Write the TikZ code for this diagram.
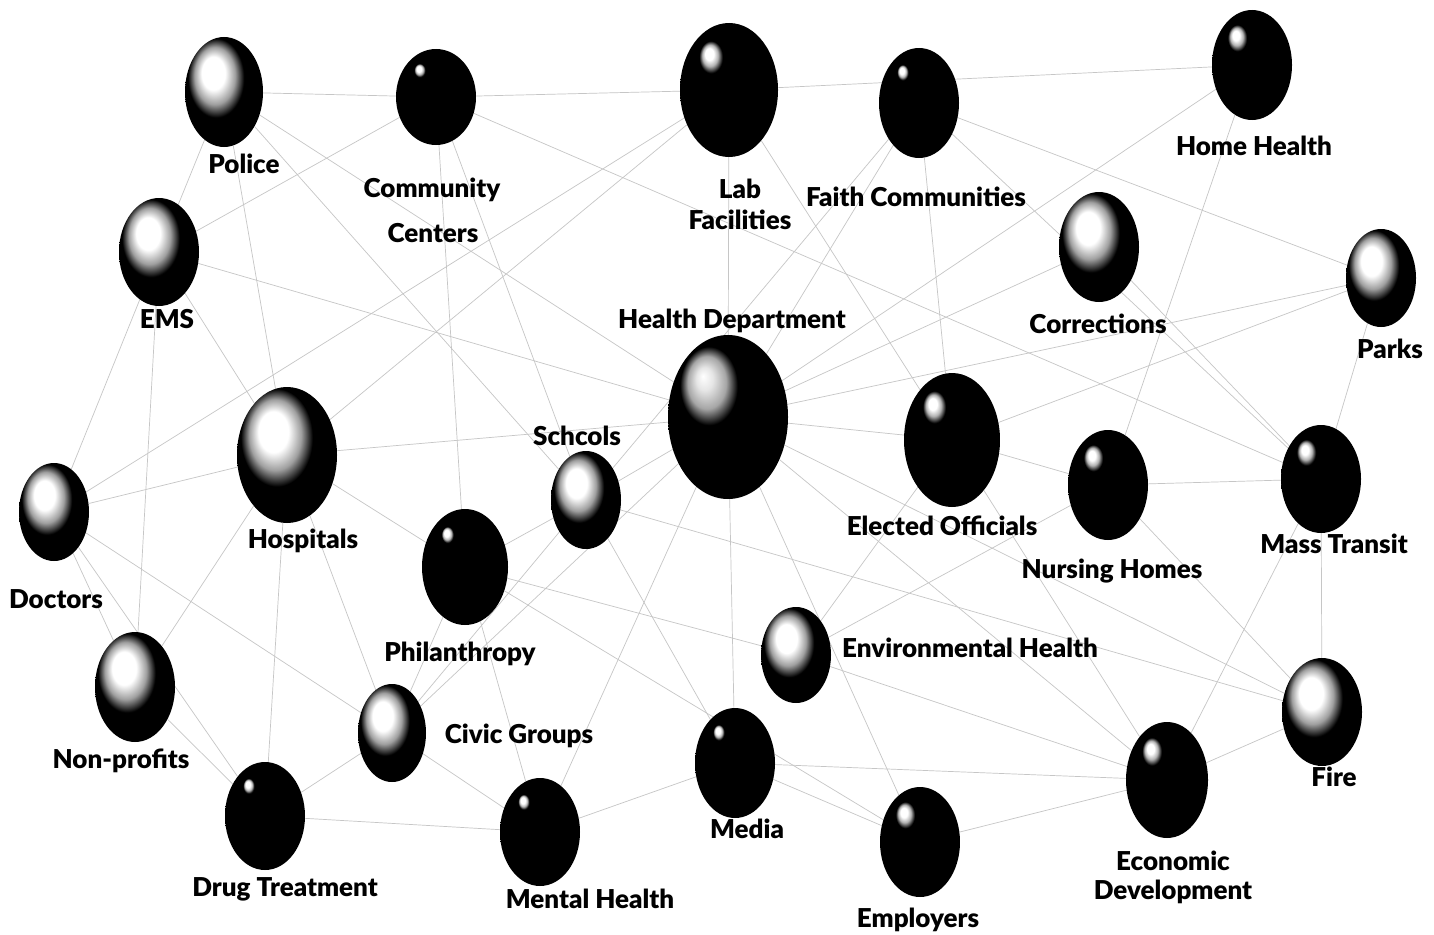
\documentclass[tikz,border=0pt]{standalone}
\usepackage{fontspec}
\setmainfont{Lato}[BoldFont={Lato Black}]
\usetikzlibrary{shapes.geometric,backgrounds}
\pgfdeclareradialshading{lightball}{\pgfpoint{-8bp}{10bp}}{color(0bp)=(white); color(7.5bp)=(white); color(13bp)=(gray!75); color(18bp)=(black); color(25bp)=(black); color(50bp)=(black)}
\pgfdeclareradialshading{medball}{\pgfpoint{-10.5bp}{12.5bp}}{color(0bp)=(white); color(3.5bp)=(white!80!gray); color(8bp)=(gray!70); color(12bp)=(black); color(25bp)=(black); color(50bp)=(black)}
\pgfdeclareradialshading{darkball}{\pgfpoint{-11bp}{15bp}}{color(0bp)=(white); color(1.5bp)=(white); color(2.5bp)=(gray!60); color(3.5bp)=(black); color(25bp)=(black); color(50bp)=(black)}
\pgfdeclareradialshading{darkglow}{\pgfpoint{-10.5bp}{14bp}}{color(0bp)=(white); color(2.2bp)=(white); color(4bp)=(gray!60); color(6bp)=(black); color(25bp)=(black); color(50bp)=(black)}
\tikzset{
  lball/.style={ellipse, inner sep=0pt, shade, shading=lightball},
  mball/.style={ellipse, inner sep=0pt, shade, shading=medball},
  dball/.style={ellipse, inner sep=0pt, shade, shading=darkball},
  gball/.style={ellipse, inner sep=0pt, shade, shading=darkglow},
  lbl/.style={font=\bfseries\fontsize{26}{28}\selectfont, inner sep=0pt, anchor=base},
  link/.style={draw=gray!45, line width=0.7pt}
}
\begin{document}
\begin{tikzpicture}[x=1pt,y=-1pt]
\useasboundingbox (0,0) rectangle (1434,934);
% balls
\node[lball, minimum width=78pt, minimum height=110pt] (police) at (224,92) {};
\node[dball, minimum width=80pt, minimum height=96pt] (cc) at (436,97) {};
\node[gball, minimum width=98pt, minimum height=134pt] (lab) at (729,90) {};
\node[dball, minimum width=80pt, minimum height=110pt] (faith) at (919,103) {};
\node[gball, minimum width=80pt, minimum height=110pt] (hh) at (1252,65) {};
\node[lball, minimum width=80pt, minimum height=108pt] (ems) at (159,252) {};
\node[lball, minimum width=80pt, minimum height=110pt] (corr) at (1099,247) {};
\node[lball, minimum width=70pt, minimum height=98pt] (parks) at (1381,278) {};
\node[mball, minimum width=120pt, minimum height=164pt] (hd) at (728,417) {};
\node[lball, minimum width=100pt, minimum height=136pt] (hosp) at (287,455) {};
\node[lball, minimum width=70pt, minimum height=98pt] (schools) at (586,500) {};
\node[gball, minimum width=96pt, minimum height=134pt] (elected) at (952,440) {};
\node[gball, minimum width=80pt, minimum height=110pt] (nh) at (1108,485) {};
\node[gball, minimum width=80pt, minimum height=108pt] (mt) at (1321,479) {};
\node[lball, minimum width=70pt, minimum height=98pt] (doctors) at (54,512) {};
\node[dball, minimum width=86pt, minimum height=116pt] (phil) at (465,567) {};
\node[lball, minimum width=70pt, minimum height=96pt] (env) at (796,655) {};
\node[lball, minimum width=80pt, minimum height=110pt] (np) at (135,687) {};
\node[lball, minimum width=68pt, minimum height=98pt] (civic) at (392,733) {};
\node[dball, minimum width=80pt, minimum height=108pt] (mh) at (540,832) {};
\node[dball, minimum width=80pt, minimum height=110pt] (media) at (735,763) {};
\node[gball, minimum width=80pt, minimum height=110pt] (employers) at (920,842) {};
\node[gball, minimum width=82pt, minimum height=116pt] (econ) at (1167,780) {};
\node[lball, minimum width=80pt, minimum height=108pt] (fire) at (1322,712) {};
\node[dball, minimum width=80pt, minimum height=108pt] (drug) at (265,816) {};
% labels
\node[lbl] (policeL) at (244,173) {Police};
\node[lbl] (ccL1) at (432,197) {Community};
\node[lbl] (ccL2) at (433,242) {Centers};
\node[lbl] (labL1) at (740,198) {Lab};
\node[lbl] (labL2) at (740,229) {Facilities};
\node[lbl] (faithL) at (916,206) {Faith Communities};
\node[lbl] (hhL) at (1254,155) {Home Health};
\node[lbl] (emsL) at (167,328) {EMS};
\node[lbl] (corrL) at (1098,333) {Corrections};
\node[lbl] (parksL) at (1390,358) {Parks};
\node[lbl] (hdL) at (732,328) {Health Department};
\node[lbl] (hospL) at (303,548) {Hospitals};
\node[lbl] (schoolsL) at (577,445) {Schcols};
\node[lbl] (electedL) at (942,535) {Elected Officials};
\node[lbl] (nhL) at (1112,578) {Nursing Homes};
\node[lbl] (mtL) at (1334,553) {Mass Transit};
\node[lbl] (doctorsL) at (56,608) {Doctors};
\node[lbl] (philL) at (460,661) {Philanthropy};
\node[lbl] (envL) at (970,657) {Environmental Health};
\node[lbl] (npL) at (121,768) {Non-profits};
\node[lbl] (civicL) at (519,743) {Civic Groups};
\node[lbl] (mhL) at (590,908) {Mental Health};
\node[lbl] (mediaL) at (747,838) {Media};
\node[lbl] (employersL) at (918,927) {Employers};
\node[lbl] (econL1) at (1173,870) {Economic};
\node[lbl] (econL2) at (1173,899) {Development};
\node[lbl] (fireL) at (1334,786) {Fire};
\node[lbl] (drugL) at (285,896) {Drug Treatment};
% connectors
\begin{pgfonlayer}{background}
\fill[white] (0,0) rectangle (1434,934);
\foreach \a/\b in {police/cc, police/hosp, police/ems, police/schools, police/hd,
  ems/cc, ems/hd, ems/hosp, ems/doctors, ems/np,
  cc/lab, cc/phil, cc/schools, cc/mt,
  lab/hh, lab/hd, lab/hosp, lab/doctors, lab/elected,
  faith/parks, faith/mt, faith/hd, faith/schools, faith/elected,
  hh/hd, hh/nh,
  hd/hosp, hd/parks, hd/corr, hd/elected, hd/fire, hd/media, hd/schools, hd/civic, hd/mh, hd/employers, hd/econ,
  elected/parks, elected/nh, elected/env, elected/econ,
  nh/mt, nh/env, nh/fire,
  mt/parks, mt/fire, mt/econ, mt/corr,
  schools/phil, schools/fire, schools/media, schools/civic,
  phil/hosp, phil/env, phil/employers, phil/mh, phil/civic,
  hosp/doctors, hosp/civic, hosp/drug, hosp/np,
  doctors/np, doctors/civic, doctors/drug,
  np/drug, civic/drug, civic/mh, drug/mh, mh/media,
  media/econ, media/employers, env/econ, employers/econ, econ/fire}
  {\draw[link] (\a) -- (\b);}
\end{pgfonlayer}
\end{tikzpicture}
\end{document}
